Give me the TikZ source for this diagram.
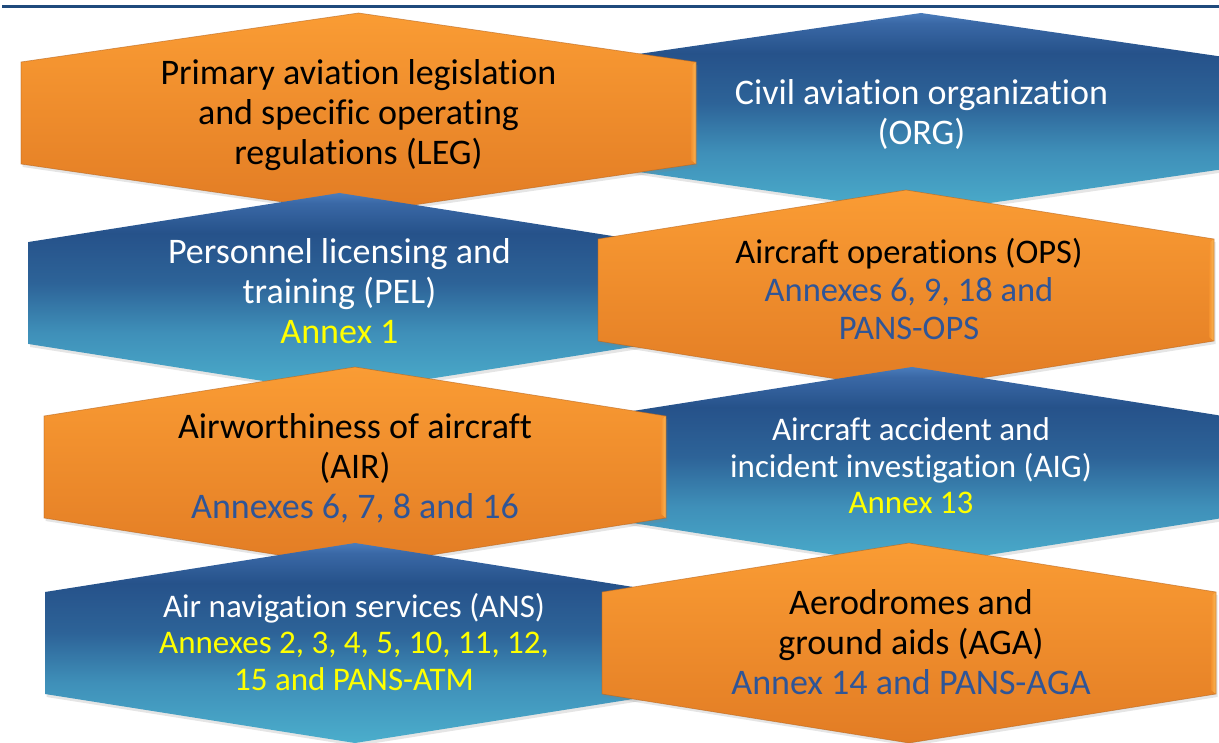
\documentclass[tikz,border=0pt]{standalone}
\usepackage{fontspec}
\setmainfont{Carlito}[Ligatures=NoCommon]
\usetikzlibrary{shadows}
\definecolor{orangetop}{HTML}{FA9C34}
\definecolor{orangemid}{HTML}{F6932F}
\definecolor{orangebot}{HTML}{E27C24}
\definecolor{orangeedge}{HTML}{B8661E}
\definecolor{orangelight}{HTML}{FDC060}
\definecolor{blueA}{HTML}{4BAECC}
\definecolor{blueB}{HTML}{3F90B9}
\definecolor{blueC}{HTML}{2D6398}
\definecolor{blueD}{HTML}{26528A}
\definecolor{blueE}{HTML}{3A68A6}
\definecolor{blueF}{HTML}{4A7CBB}
\definecolor{annexblue}{HTML}{2F5597}
\definecolor{annexyellow}{HTML}{FFFF00}
\definecolor{barblue}{HTML}{1F4A7C}
\pgfdeclareverticalshading{bluehex}{100bp}{color(0bp)=(blueA); color(25bp)=(blueA); color(40bp)=(blueB); color(52.5bp)=(blueC); color(65bp)=(blueD); color(72.5bp)=(blueE); color(75bp)=(blueF); color(100bp)=(blueF)}
\newcommand{\hexshape}[4]{%
  \path[#1] (#2-#4,#3+49) -- (#2,#3) -- (#2+#4,#3+49) -- (#2+#4,#3+151)
    -- (#2,#3+200) -- (#2-#4,#3+151) -- cycle;}
\newcommand{\hexbevel}[3]{%
  \path[bevelstrip] (#1+#3-5,#2+53) -- (#1+#3,#2+49) -- (#1+#3,#2+151) -- (#1+#3-5,#2+147) -- cycle;
  \path[beveledge] (#1-#3,#2+49) -- (#1,#2) -- (#1+#3,#2+49) -- (#1+#3,#2+151)
    -- (#1,#2+200) -- (#1-#3,#2+151) -- cycle;}
\tikzset{
  hexshadow/.style={drop shadow={opacity=0.2, shadow xshift=1.5pt, shadow yshift=-3pt}},
  orangehex/.style={hexshadow, top color=orangetop, middle color=orangemid, bottom color=orangebot},
  bluehexs/.style={hexshadow, shading=bluehex},
  bevelstrip/.style={left color=orangemid, right color=orangelight, opacity=0.85},
  beveledge/.style={draw=orangeedge, line width=0.7pt, draw opacity=0.6},
  bigtxt/.style={align=center, inner sep=0pt, font=\fontsize{36}{40}\selectfont},
  midtxt/.style={align=center, inner sep=0pt, font=\fontsize{34.5}{38}\selectfont},
  smalltxt/.style={align=center, inner sep=0pt, font=\fontsize{33}{36.5}\selectfont},
  ontxt/.style={text=black},
  bltxt/.style={text=white},
}
\begin{document}
\begin{tikzpicture}[x=1pt,y=-1pt]
\useasboundingbox (0,0) rectangle (1219,743);
\fill[white] (0,0) rectangle (1219,743);
\clip (0,0) rectangle (1219,743);
\fill[barblue] (2,5) rectangle (1219,8.5);
% row 1
\hexshape{bluehexs}{921}{13}{337.5}
\hexshape{orangehex}{358.5}{13}{337.5}
\hexbevel{358.5}{13}{337.5}
% row 2
\hexshape{bluehexs}{339.5}{193}{311}
\hexshape{orangehex}{906}{190}{308}
\hexbevel{906}{190}{308}
% row 3
\hexshape{bluehexs}{912}{367}{311}
\hexshape{orangehex}{355}{367}{311}
\hexbevel{355}{367}{311}
% row 4
\hexshape{bluehexs}{355}{543}{310}
\hexshape{orangehex}{909}{543}{307}
\hexbevel{909}{543}{307}
% texts
\node[bigtxt, ontxt] (leg) at (358.5,115) {Primary aviation legislation\\and specific operating\\regulations (LEG)};
\node[bigtxt, bltxt] (org) at (921.5,115) {Civil aviation organization\\(ORG)};
\node[bigtxt, bltxt] (pel) at (339.5,291) {Personnel licensing and\\training (PEL)\\\textcolor{annexyellow}{Annex 1}};
\node[midtxt, ontxt] (ops) at (909,289) {Aircraft operations (OPS)\\\textcolor{annexblue}{Annexes 6, 9, 18 and}\\\textcolor{annexblue}{PANS-OPS}};
\node[bigtxt, ontxt] (air) at (355,468) {Airworthiness of aircraft\\(AIR)\\\textcolor{annexblue}{Annexes 6, 7, 8 and 16}};
\node[smalltxt, bltxt] (aig) at (911,466) {Aircraft accident and\\incident investigation (AIG)\\\textcolor{annexyellow}{Annex 13}};
\node[smalltxt, bltxt] (ans) at (354,642) {Air navigation services (ANS)\\\textcolor{annexyellow}{Annexes 2, 3, 4, 5, 10, 11, 12,}\\\textcolor{annexyellow}{15 and PANS-ATM}};
\node[bigtxt, ontxt] (aga) at (911,642) {Aerodromes and\\ground aids (AGA)\\\textcolor{annexblue}{Annex 14 and PANS-AGA}};
\end{tikzpicture}
\end{document}
